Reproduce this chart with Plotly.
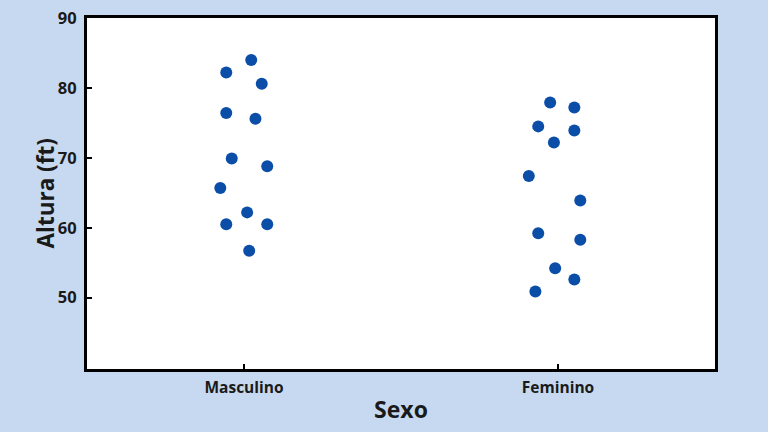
import plotly.graph_objects as go

categories = ["Masculino", "Feminino"]
masc_jitter = [-0.0565, 0.023, 0.0565, -0.0565, 0.0365, -0.039, 0.074, -0.0755, 0.010, -0.0565, 0.074, 0.0165]
masc_height = [82.2, 84.0, 80.6, 76.4, 75.6, 69.9, 68.8, 65.7, 62.2, 60.5, 60.5, 56.7]
fem_jitter = [-0.025, 0.052, -0.063, 0.052, -0.013, -0.093, 0.071, -0.063, 0.071, -0.009, 0.052, -0.072]
fem_height = [77.9, 77.2, 74.5, 73.9, 72.2, 67.4, 63.9, 59.2, 58.3, 54.2, 52.6, 50.9]
y_ticks = [50, 60, 70, 80, 90]

xs = [0 + j for j in masc_jitter] + [1 + j for j in fem_jitter]
ys = masc_height + fem_height

fig = go.Figure()
fig.add_trace(go.Scatter(
    x=xs, y=ys, mode="markers",
    marker=dict(size=12, color="#0b4ea8", line=dict(width=0)),
    showlegend=False,
))

font_family = "Open Sans"
fig.update_layout(
    width=768, height=432,
    paper_bgcolor="#c7d9f0",
    plot_bgcolor="white",
    margin=dict(l=87, r=53, t=18, b=63),
    font=dict(family=font_family, color="#1a1a1a"),
)
fig.update_xaxes(
    range=[-0.5, 1.5],
    tickvals=[0, 1], ticktext=categories,
    tickfont=dict(size=15.5, weight="bold", family=font_family),
    ticks="inside", ticklen=5, tickwidth=2, tickcolor="black",
    showline=True, linewidth=3, linecolor="black", mirror=True,
    showgrid=False, zeroline=False, automargin=False,
    ticklabelstandoff=2,
    title=dict(text="Sexo", font=dict(size=23, weight="bold", family=font_family), standoff=6),
)
fig.update_yaxes(
    range=[39.8, 90],
    tickvals=y_ticks,
    tickfont=dict(size=16.5, weight="bold", family=font_family),
    ticks="inside", ticklen=5, tickwidth=2, tickcolor="black",
    showline=True, linewidth=3, linecolor="black", mirror=True,
    showgrid=False, zeroline=False, automargin=False,
    ticklabelstandoff=4,
)
fig.add_annotation(
    text="Altura (ft)", textangle=-90,
    xref="paper", yref="paper", x=0, y=0.5,
    xanchor="center", yanchor="middle", xshift=-42, showarrow=False,
    font=dict(size=22.5, weight="bold", family=font_family, color="#1a1a1a"),
)

fig.write_html(
    "out.html",
    config={"displayModeBar": False},
    post_script="document.body.style.margin='0';document.body.style.overflow='hidden';",
)
